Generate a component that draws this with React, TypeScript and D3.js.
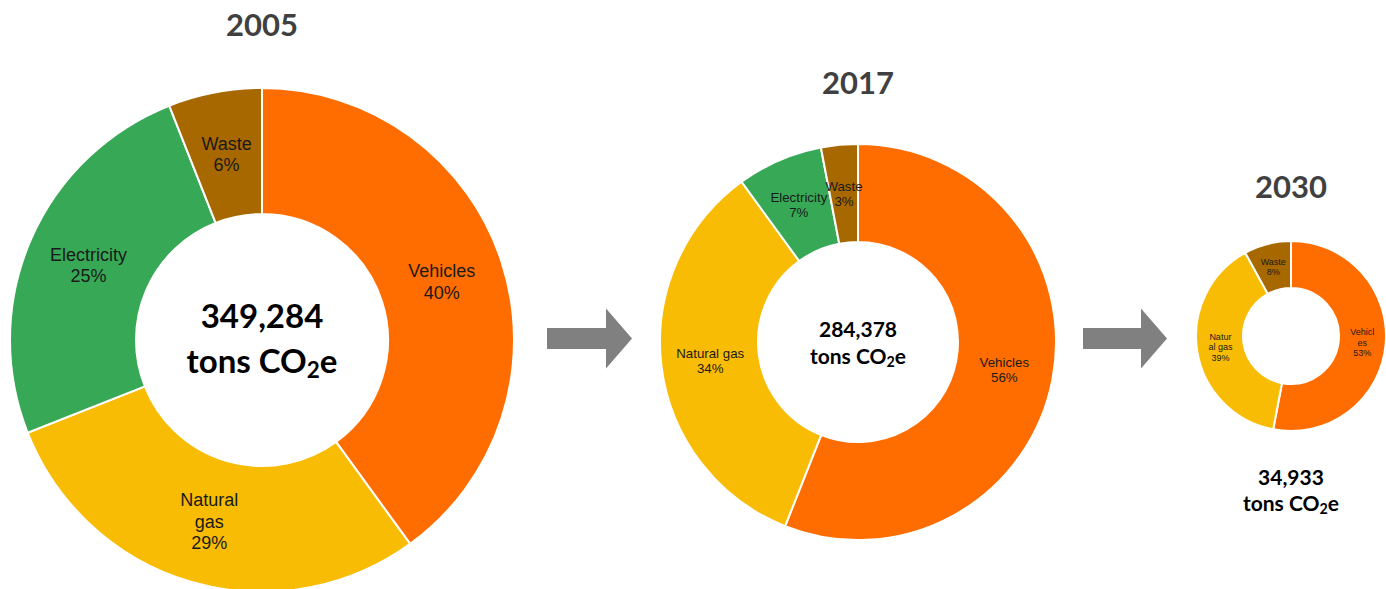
import React from "react";
import { pie, arc, format } from "d3";

// Emissions by sector, three snapshots
const years = ["2005", "2017", "2030"];
const categories = ["Vehicles", "Natural gas", "Electricity", "Waste"];
const colors = ["#FF6D00", "#F9BC05", "#37A856", "#A86800"];
const totals = [349284, 284378, 34933];
const shares2005 = [40, 29, 25, 6];
const shares2017 = [56, 34, 7, 3];
const shares2030 = [53, 39, 0, 8];
// how each label wraps inside its slice
const names2005 = [["Vehicles"], ["Natural", "gas"], ["Electricity"], ["Waste"]];
const names2017 = [["Vehicles"], ["Natural gas"], ["Electricity"], ["Waste"]];
const names2030 = [["Vehicl", "es"], ["Natur", "al gas"], ["Electricity"], ["Waste"]];

const shares = [shares2005, shares2017, shares2030];
const names = [names2005, names2017, names2030];

const layout = [
  { cx: 262, cy: 340, r: 252, ri: 126, titleY: 36, titleSize: 31, label: 18, lh: 21.5, total: 33, totalY: [328, 373] },
  { cx: 858, cy: 342, r: 198, ri: 100, titleY: 94, titleSize: 31, label: 13.3, lh: 15, total: 21, totalY: [337, 364] },
  { cx: 1291, cy: 336, r: 95, ri: 48, titleY: 198, titleSize: 31, label: 9, lh: 10.5, total: 21, totalY: [485, 511] },
];

const arrows = [
  { x0: 547, x1: 606, x2: 632, y: 338.5 },
  { x0: 1083, x1: 1141, x2: 1167, y: 338.5 },
];

const fmt = format(",");

function Donut({ i }: { i: number }) {
  const L = layout[i];
  const data = categories.map((c, k) => ({ name: c, value: shares[i][k], k }));
  const slices = pie<any>().value((d) => d.value).sort(null)(data).filter((s) => s.data.value > 0);
  const a = arc<any>().innerRadius(L.ri).outerRadius(L.r);
  return (
    <g>
      <text
        x={L.cx}
        y={L.titleY}
        textAnchor="middle"
        fontFamily="Lato, sans-serif"
        fontWeight="bold"
        fontSize={L.titleSize}
        fill="#404040"
      >
        {years[i]}
      </text>
      <g transform={`translate(${L.cx},${L.cy})`}>
        {slices.map((s) => (
          <path key={s.data.name} d={a(s) as string} fill={colors[s.data.k]} stroke="#fff" strokeWidth={2} />
        ))}
        {slices.map((s) => {
          const [x, y] = a.centroid(s);
          const lines = [...names[i][s.data.k], `${s.data.value}%`];
          const y0 = y - ((lines.length - 1) * L.lh) / 2 + L.label * 0.35;
          return (
            <text
              key={"l" + s.data.name}
              textAnchor="middle"
              fontFamily="'Liberation Sans', Arial, sans-serif"
              fontSize={L.label}
              fill="#1a1a1a"
            >
              {lines.map((t, j) => (
                <tspan key={j} x={x} y={y0 + j * L.lh}>{t}</tspan>
              ))}
            </text>
          );
        })}
      </g>
      <g fontFamily="Lato, sans-serif" fontWeight="bold" fontSize={L.total} fill="#000" textAnchor="middle">
        <text x={L.cx} y={L.totalY[0]}>{fmt(totals[i])}</text>
        <text x={L.cx} y={L.totalY[1]}>
          tons CO<tspan fontSize={L.total * 0.68} dy={L.total * 0.15}>2</tspan>
          <tspan dy={-L.total * 0.15}>e</tspan>
        </text>
      </g>
    </g>
  );
}

export default function App() {
  return (
    <svg width={1386} height={589} style={{ position: "absolute", left: 0, top: 0, background: "#fff" }}>
      {arrows.map((ar, k) => (
        <path
          key={k}
          d={`M${ar.x0},${ar.y - 10.5}H${ar.x1}V${ar.y - 30}L${ar.x2},${ar.y}L${ar.x1},${ar.y + 30}V${ar.y + 10.5}H${ar.x0}Z`}
          fill="#808080"
        />
      ))}
      {years.map((y, i) => (
        <Donut key={y} i={i} />
      ))}
    </svg>
  );
}
